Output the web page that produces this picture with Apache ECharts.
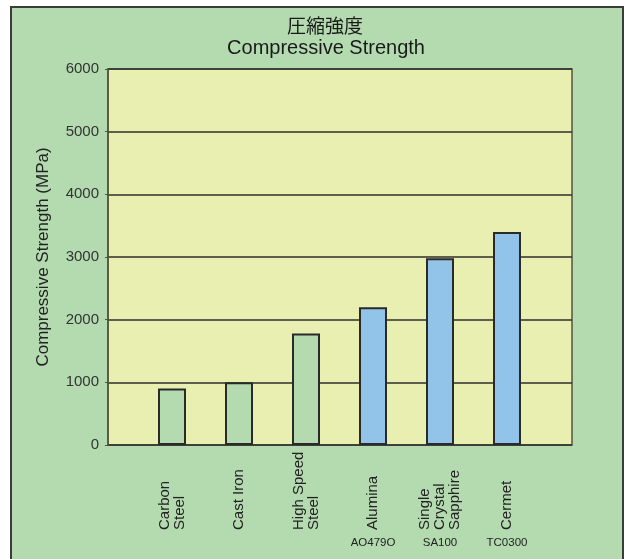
<!DOCTYPE html>
<html>
<head>
<meta charset="utf-8">
<script src="https://cdn.jsdelivr.net/npm/echarts@6/dist/echarts.min.js"></script>
<style>
  html, body { margin: 0; padding: 0; background: #fff; }
  #chart { width: 624px; height: 559px; }
</style>
</head>
<body>
<div id="chart"></div>
<script>
// data
const materials = ["Carbon\nSteel", "Cast Iron", "High Speed\nSteel", "Alumina", "Single\nCrystal\nSapphire", "Cermet"];
const grades = ["", "", "", "AO479O", "SA100", "TC0300"];
const materialType = ["metal", "metal", "metal", "ceramic", "ceramic", "ceramic"];
const strength = [900, 1000, 1780, 2200, 2980, 3400];
const yTicks = [0, 1000, 2000, 3000, 4000, 5000, 6000];

const chart = echarts.init(document.getElementById("chart"));

const latin = "Liberation Sans, Arial, sans-serif";
const outerGreen = "#b4dbb0";
const plotYellow = "#e9efb0";
const ceramicBlue = "#92c4ea";

const option = {
  backgroundColor: "#fff",
  animation: false,
  graphic: [
    {
      type: "rect",
      z: -10,
      shape: { x: 11, y: 7, width: 612, height: 560 },
      style: { fill: outerGreen, stroke: "#3c3c3c", lineWidth: 2 },
    },
    // two-line heading
    {
      type: "text",
      x: 325,
      y: 26,
      style: {
        text: "圧縮強度",
        align: "center",
        verticalAlign: "middle",
        font: "normal 19px 'Noto Sans CJK JP'",
        fill: "#1a1a1a",
      },
    },
    {
      type: "text",
      x: 326,
      y: 48,
      style: {
        text: "Compressive Strength",
        align: "center",
        verticalAlign: "middle",
        font: "normal 20px 'Liberation Sans', Arial, sans-serif",
        fill: "#1a1a1a",
      },
    },
  ],
  grid: [
    {
      // plot frame with background and gridlines
      left: 108,
      right: 52,
      top: 69,
      bottom: 114,
      show: true,
      backgroundColor: plotYellow,
      borderColor: "#55553a",
      borderWidth: 1.5,
    },
    {
      // bar band area
      left: 138.5,
      width: 402,
      top: 69,
      bottom: 114,
    },
  ],
  xAxis: [
    {
      gridIndex: 0,
      type: "category",
      data: [""],
      show: false,
    },
    {
      gridIndex: 1,
      type: "category",
      data: materials,
      axisLine: { show: false },
      axisTick: { show: false },
      axisLabel: {
        rotate: 90,
        align: "left",
        verticalAlign: "middle",
        margin: 85,
        fontFamily: latin,
        fontSize: 15,
        lineHeight: 15,
        color: "#222",
      },
    },
    {
      gridIndex: 1,
      type: "category",
      position: "bottom",
      data: grades,
      axisLine: { show: false },
      axisTick: { show: false },
      axisLabel: {
        margin: 92,
        fontFamily: latin,
        fontSize: 11.5,
        color: "#222",
      },
    },
  ],
  yAxis: [
    {
      gridIndex: 0,
      type: "value",
      min: yTicks[0],
      max: yTicks[yTicks.length - 1],
      interval: 1000,
      name: "Compressive Strength (MPa)",
      nameLocation: "middle",
      nameGap: 56,
      nameTextStyle: { fontFamily: latin, fontSize: 17, color: "#222" },
      axisLine: { show: true, lineStyle: { color: "#55553a", width: 1.5 } },
      axisTick: { show: true, length: 3, lineStyle: { color: "#55553a" } },
      axisLabel: {
        margin: 9,
        fontFamily: latin,
        fontSize: 15,
        color: "#333",
        formatter: (v) => String(v),
      },
      splitLine: { show: true, lineStyle: { color: "#2e2e2e", width: 1.5 } },
    },
    {
      gridIndex: 1,
      type: "value",
      min: yTicks[0],
      max: yTicks[yTicks.length - 1],
      show: false,
      splitLine: { show: false },
    },
  ],
  series: [
    {
      type: "bar",
      xAxisIndex: 1,
      yAxisIndex: 1,
      data: strength,
      barWidth: 28,
      z: 5,
      itemStyle: {
        color: (p) => (materialType[p.dataIndex] === "ceramic" ? ceramicBlue : outerGreen),
        borderColor: "#2a2a2a",
        borderWidth: 2,
      },
    },
  ],
};

chart.setOption(option);
</script>
</body>
</html>
